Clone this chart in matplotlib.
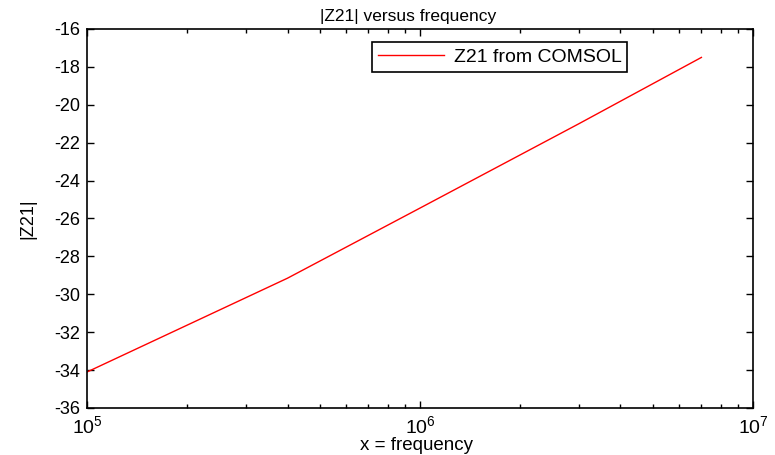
import numpy as np
import matplotlib
matplotlib.use("Agg")
import matplotlib.pyplot as plt
from matplotlib.ticker import LogLocator, MultipleLocator, NullFormatter

# |Z21|
freq = [1e5, 4e5, 1e6, 3e6, 7e6]
z21 = [-34.1, -29.15, -25.45, -21.0, -17.5]

plt.rcParams.update({
    "font.family": "Liberation Sans",
    "font.size": 13,
    "axes.unicode_minus": False,
    "mathtext.fontset": "custom",
    "mathtext.rm": "Liberation Sans",
    "mathtext.it": "Liberation Sans:italic",
    "axes.linewidth": 1.2,
})

fig = plt.figure(figsize=(7.75, 4.55), dpi=100)
ax = fig.add_axes([0.1123, 0.1033, 0.8593, 0.833])

ax.semilogx(freq, z21, color="red", linewidth=1.0, label="Z21 from COMSOL")
ax.set_xlim(1e5, 1e7)
ax.set_ylim(-36, -16)
ax.yaxis.set_major_locator(MultipleLocator(2))
ax.xaxis.set_major_locator(LogLocator(base=10, numticks=5))
ax.xaxis.set_minor_locator(LogLocator(base=10, subs=np.arange(2, 10), numticks=20))
ax.xaxis.set_minor_formatter(NullFormatter())

ax.tick_params(which="both", direction="in", top=True, right=True)
ax.tick_params(which="major", length=5, width=1)
ax.tick_params(which="minor", length=3, width=1)
ax.tick_params(axis="x", pad=5, labelsize=14)
ax.tick_params(axis="y", pad=5)

ax.set_title("|Z21| versus frequency", fontsize=12.5, pad=6, x=0.482)
ax.set_xlabel("x = frequency", fontsize=13.5, va="center")
ax.xaxis.set_label_coords(0.495, -0.1)
ax.set_ylabel("|Z21|", va="center")
ax.yaxis.set_label_coords(-0.089, 0.5)

leg = ax.legend(loc="upper left", bbox_to_anchor=(0.428, 0.965), fancybox=False,
                framealpha=1, edgecolor="black", handlelength=3.4, borderaxespad=0,
                borderpad=0.3, handletextpad=0.5, fontsize=14)
leg.get_frame().set_linewidth(1.2)

fig.savefig("out.png", dpi=100)
